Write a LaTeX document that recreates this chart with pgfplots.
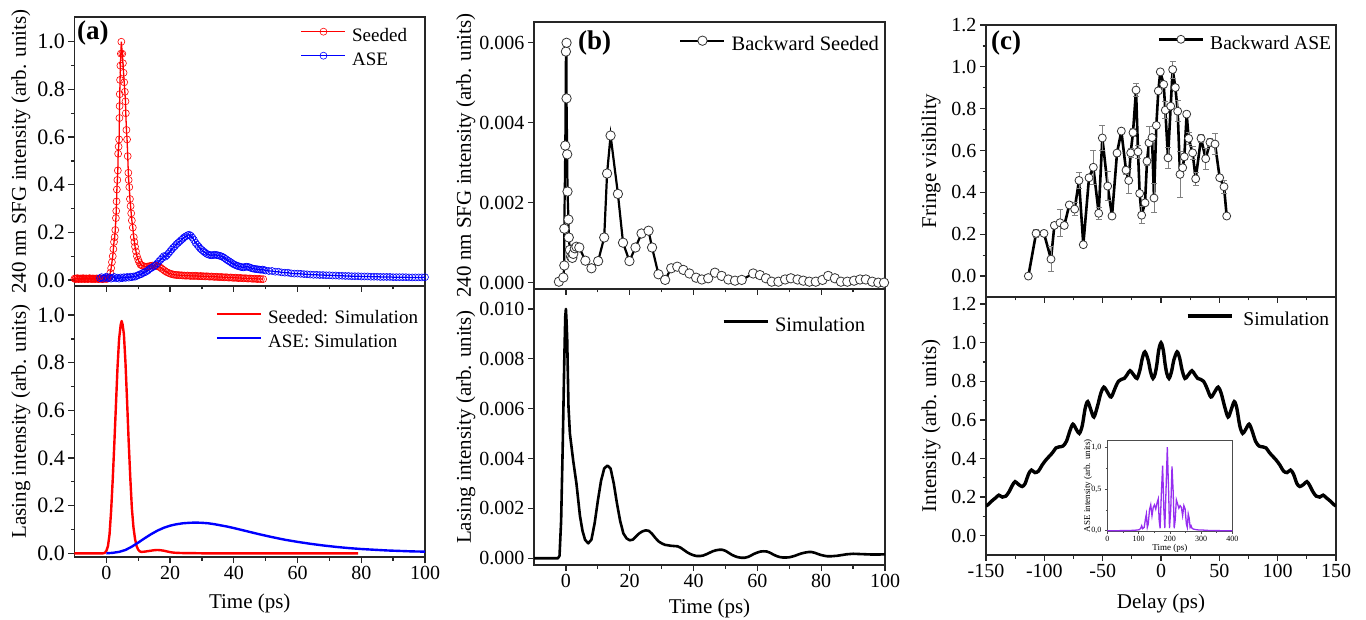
\documentclass[border=0pt]{standalone}
\usepackage{fontspec}
\setmainfont{Liberation Serif}
\usepackage{pgfplots}
\pgfplotsset{compat=1.18}
\definecolor{ivio}{RGB}{150,45,240}
\tikzset{plabel/.style={font=\bfseries\fontsize{27}{30}\selectfont, anchor=west, inner sep=0pt}}
\pgfplotsset{
  base/.style={
    scale only axis,
    axis line style={line width=1.6pt, black!85},
    every tick/.style={line width=1.3pt, black!85},
    tick align=outside,
    major tick length=6pt,
    minor tick length=3.5pt,
    xtick pos=lower, ytick pos=left,
    /pgf/number format/assume math mode=true,
    tick label style={font=\fontsize{20}{24}\selectfont},
    label style={font=\fontsize{21}{25}\selectfont},
    legend style={draw=none, fill=none, font=\fontsize{19.5}{23}\selectfont, row sep=5pt,
      inner sep=0pt, outer sep=0pt, nodes={inner sep=0pt, text height=14pt, text depth=5pt},
      /tikz/every odd column/.append style={column sep=6pt}},
    legend cell align=left,
    legend image code/.code={\draw[mark repeat=2,mark phase=2,##1] plot coordinates {(0pt,5.5pt) (22pt,5.5pt) (44pt,5.5pt)};},
  },
}
\begin{document}
\begin{tikzpicture}
\useasboundingbox (0,0) rectangle (1366pt,619pt);
%================ (a) top
\begin{axis}[base, at={(74.5pt,333pt)}, anchor=south west, width=350.5pt, height=269pt,
  xmin=-10, xmax=100, ymin=-0.025, ymax=1.104,
  xtick={0,20,40,60,80,100}, minor x tick num=1, xticklabels={},
  ytick={0,0.2,0.4,0.6,0.8,1}, minor y tick num=1,
  yticklabel style={font=\fontsize{22}{26}\selectfont},
  yticklabel style={/pgf/number format/.cd, fixed, fixed zerofill, precision=1},
  ylabel={240 nm SFG intensity (arb. units)},
  ylabel style={at={(axis description cs:-0.153,0.5)}, anchor=center},
  legend style={at={(1,1)}, anchor=north east, xshift=-18pt, yshift=-10.7pt, font=\fontsize{19}{23}\selectfont},
]
\addplot[red, line width=1.3pt, mark=o, mark size=3.5pt, mark options={line width=0.6pt, solid}] coordinates {
(-10,0.006) (-9.75,0.004) (-9.5,0.007) (-9.25,0.005) (-9,0.008) (-8.75,0.004) (-8.5,0.006) (-8.25,0.005)
(-8,0.007) (-7.75,0.004) (-7.5,0.006) (-7.25,0.008) (-7,0.005) (-6.75,0.004) (-6.5,0.006) (-6.25,0.007)
(-6,0.005) (-5.75,0.004) (-5.5,0.006) (-5.25,0.008) (-5,0.005) (-4.75,0.006) (-4.5,0.004) (-4.25,0.007)
(-4,0.005) (-3.75,0.006) (-3.5,0.004) (-3.25,0.006) (-3,0.007) (-2.75,0.005) (-2.5,0.004) (-2.25,0.006)
(-2,0.005) (-1.75,0.007) (-1.5,0.005) (-1.25,0.004) (-1,0.006) (-0.75,0.005) (-0.5,0.007) (-0.25,0.005)
(0,0.006) (0.25,0.005) (0.5,0.007) (0.75,0.008)
(1.0,0.012) (1.25,0.03) (1.5,0.05) (1.75,0.075) (2.0,0.1) (2.2,0.13) (2.4,0.16) (2.6,0.18) (2.8,0.21)
(3.0,0.26) (3.1,0.29) (3.2,0.33) (3.3,0.38) (3.45,0.42) (3.6,0.46) (3.7,0.53) (3.85,0.56) (4.0,0.59)
(4.1,0.68) (4.15,0.73) (4.2,0.78) (4.3,0.84) (4.4,0.9) (4.55,0.95) (4.7,1.0)
(5.0,0.95) (5.2,0.91) (5.4,0.87) (5.6,0.83) (5.8,0.79) (6.0,0.75) (6.1,0.70) (6.3,0.63) (6.5,0.59)
(6.7,0.52) (6.9,0.45) (7.0,0.42) (7.2,0.39) (7.4,0.34) (7.6,0.31) (7.8,0.28) (8.0,0.25) (8.3,0.22)
(8.6,0.18) (8.8,0.16) (9.0,0.14) (9.3,0.12) (9.6,0.10) (10,0.085) (10.3,0.075) (10.7,0.065) (11,0.062)
(11.5,0.059) (12,0.057)
(12.5,0.056) (13,0.057) (13.5,0.058) (14,0.06) (14.5,0.061) (15,0.06) (15.5,0.06) (16,0.058) (16.5,0.056)
(17,0.052) (17.5,0.047) (18,0.042) (18.5,0.037) (19,0.033) (19.5,0.03) (20,0.027) (20.5,0.025) (21,0.023)
(21.5,0.022) (22,0.021) (22.5,0.021) (23,0.02) (23.5,0.02) (24,0.019) (24.5,0.019) (25,0.018) (25.5,0.019)
(26,0.018) (26.5,0.017) (27,0.018) (27.5,0.017) (28,0.018) (28.5,0.017) (29,0.016) (29.5,0.017) (30,0.016)
(30.5,0.016) (31,0.015) (31.5,0.016) (32,0.015) (32.5,0.014) (33,0.015) (33.5,0.014) (34,0.013) (34.5,0.014)
(35,0.013) (35.5,0.012) (36,0.013) (36.5,0.012) (37,0.011) (37.5,0.012) (38,0.011) (38.5,0.01) (39,0.011)
(39.5,0.01) (40,0.009) (40.5,0.01) (41,0.009) (41.5,0.008) (42,0.009) (42.5,0.008) (43,0.007) (43.5,0.008)
(44,0.007) (44.5,0.006) (45,0.007) (45.5,0.006) (46,0.005) (46.5,0.006) (47,0.005) (47.5,0.004) (48,0.005)
(48.5,0.004) (49.2,0.004)
};
\addlegendentry{Seeded}
\addplot[blue, line width=1.3pt, mark=o, mark size=3.5pt, mark options={line width=0.6pt, solid}] coordinates {
(-2,0.008) (-1.5,0.012) (-1,0.006) (-0.5,0.01) (0,0.014) (0.5,0.008) (1,0.011) (1.5,0.006) (2,0.009)
(2.5,0.013) (3,0.007) (3.5,0.01) (4,0.006) (4.5,0.011) (5,0.008) (5.5,0.012) (6,0.009) (6.5,0.013)
(7,0.01) (7.5,0.014) (8,0.012) (8.5,0.015) (9,0.014) (9.5,0.018) (10,0.02) (10.5,0.024) (11,0.025)
(11.5,0.03) (12,0.032) (12.5,0.036) (13,0.04) (13.5,0.046) (14,0.05) (14.5,0.054) (15,0.058) (15.5,0.064)
(16,0.07) (16.5,0.078) (17,0.085) (17.5,0.092) (18,0.1) (18.5,0.098) (19,0.104) (19.5,0.112) (20,0.12)
(20.5,0.128) (21,0.136) (21.5,0.142) (22,0.15) (22.5,0.156) (23,0.162) (23.5,0.168) (24,0.174) (24.5,0.18)
(25,0.184) (25.5,0.188) (26,0.19) (26.5,0.186) (27,0.178) (27.5,0.168) (28,0.156) (28.5,0.148) (29,0.14)
(29.5,0.132) (30,0.126) (30.5,0.12) (31,0.115) (31.5,0.11) (32,0.107) (32.5,0.105) (33,0.104) (33.5,0.105)
(34,0.106) (34.5,0.105) (35,0.104) (35.5,0.102) (36,0.1) (36.5,0.097) (37,0.093) (37.5,0.088) (38,0.083)
(38.5,0.079) (39,0.075) (39.5,0.07) (40,0.066) (40.5,0.063) (41,0.06) (41.5,0.058) (42,0.056) (42.5,0.054)
(43,0.053) (43.5,0.055) (44,0.056) (44.5,0.055) (45,0.053) (45.5,0.05) (46,0.048) (46.5,0.047) (47,0.046)
(47.5,0.045) (48,0.044) (48.5,0.043) (49,0.044) (49.5,0.042) (50,0.04) (51,0.038) (52,0.038) (53,0.035)
(54,0.035) (55,0.032) (56,0.031) (57,0.031) (58,0.028) (59,0.027) (60,0.027) (61,0.026) (62,0.025)
(63,0.024) (64,0.023) (65,0.022) (66,0.022) (67,0.021) (68,0.021) (69,0.02) (70,0.02) (71,0.019)
(72,0.019) (73,0.018) (74,0.018) (75,0.017) (76,0.017) (77,0.016) (78,0.016) (79,0.016) (80,0.015)
(81,0.015) (82,0.015) (83,0.014) (84,0.014) (85,0.014) (86,0.013) (87,0.013) (88,0.013) (89,0.013)
(90,0.012) (91,0.012) (92,0.012) (93,0.012) (94,0.012) (95,0.011) (96,0.011) (97,0.011) (98,0.011)
(99,0.011) (100,0.012)
};
\addlegendentry{ASE}
\node[plabel] at (rel axis cs:0,1) [xshift=2.5pt, yshift=-16pt] {(a)};
\end{axis}
%================ (a) bottom
\begin{axis}[base, at={(74.5pt,62pt)}, anchor=south west, width=350.5pt, height=271pt,
  xmin=-10, xmax=100, ymin=-0.0155, ymax=1.122,
  xtick={0,20,40,60,80,100}, minor x tick num=1,
  ytick={0,0.2,0.4,0.6,0.8,1}, minor y tick num=1,
  yticklabel style={font=\fontsize{22}{26}\selectfont},
  yticklabel style={/pgf/number format/.cd, fixed, fixed zerofill, precision=1},
  ylabel={Lasing intensity (arb. units)},
  ylabel style={at={(axis description cs:-0.153,0.5)}, anchor=center},
  xlabel={Time (ps)},
  xlabel style={at={(axis description cs:0.5,0)}, anchor=center, yshift=-46pt},
  legend style={at={(1,1)}, anchor=north east, xshift=-7pt, yshift=-24pt, font=\fontsize{19}{23}\selectfont},
]
\addplot[red, line width=2.4pt, line join=round] coordinates {
(-10,0) (-2,0) (-1,0) (-0.5,0.002) (0,0.01) (0.5,0.03) (1,0.08) (1.5,0.18) (2,0.31) (2.5,0.46) (3,0.62)
(3.5,0.78) (4,0.9) (4.5,0.96) (4.8,0.975) (5.1,0.96) (5.5,0.92) (6,0.8) (6.5,0.64) (7,0.47) (7.5,0.32)
(8,0.19) (8.5,0.11) (9,0.06) (9.5,0.03) (10,0.015) (10.5,0.008) (11,0.006) (12,0.007) (13,0.009)
(14,0.011) (15,0.013) (16,0.014) (17,0.013) (18,0.011) (19,0.008) (20,0.005) (21,0.003) (22,0.002)
(24,0.001) (26,0.001) (30,0) (79,0)
};
\addlegendentry{Seeded: Simulation}
\addplot[blue, line width=2.4pt, line join=round] coordinates {
(0,0) (2,0.002) (4,0.006) (6,0.014) (8,0.028) (10,0.045) (12,0.063) (14,0.08) (16,0.095) (18,0.107)
(20,0.116) (22,0.122) (24,0.126) (26,0.128) (28,0.129) (30,0.128) (32,0.126) (34,0.122) (36,0.117)
(38,0.112) (40,0.106) (44,0.093) (48,0.08) (52,0.068) (56,0.057) (60,0.048) (64,0.04) (68,0.033)
(72,0.027) (76,0.022) (80,0.018) (84,0.015) (88,0.012) (92,0.01) (96,0.008) (100,0.007)
};
\addlegendentry{ASE: Simulation}
\end{axis}
%================ (b) top
\begin{axis}[base, at={(534pt,330pt)}, anchor=south west, width=351pt, height=267pt,
  xmin=-10, xmax=100, ymin=-0.000158, ymax=0.00652,
  xtick={0,20,40,60,80,100}, minor x tick num=1, xticklabels={},
  ytick={0,0.002,0.004,0.006}, scaled y ticks=false,
  yticklabel style={/pgf/number format/.cd, fixed, fixed zerofill, precision=3},
  ylabel={240 nm SFG intensity (arb. units)},
  ylabel style={at={(axis description cs:-0.194,0.5)}, anchor=center},
  legend style={at={(1,1)}, anchor=north east, xshift=-6pt, yshift=-14pt, font=\fontsize{20.5}{24}\selectfont},
]
\addplot[black, line width=2.2pt, mark=*, mark size=4.7pt, mark options={fill=white, draw=black!80, line width=0.8pt, solid}] coordinates {
(-2.2,0.000025) (-0.8,0.00013) (-0.5,0.00043) (-0.5,0.00135) (-0.2,0.00343) (0,0.00578) (0.2,0.00600)
(0.2,0.00461) (0.4,0.00321) (0.5,0.00228) (0.8,0.00158) (0.9,0.00113) (1.25,0.00082) (1.6,0.00065)
(2.0,0.00062) (2.3,0.00072) (2.8,0.00086) (3.3,0.0009) (4.2,0.00088) (6.1,0.00055) (8.0,0.00036)
(10.1,0.00054) (12.0,0.00113) (12.9,0.00273) (14.0,0.00368) (16.3,0.00222) (17.9,0.0010) (19.9,0.00054)
(21.8,0.00088) (23.7,0.00123) (25.9,0.0013) (27.0,0.00088) (29.0,0.00021) (31.1,0.00007) (33.0,0.00036)
(34.9,0.0004) (36.8,0.00032) (38.7,0.00023) (40.8,0.000125) (42.6,0.00008) (44.6,0.00011) (46.7,0.00025)
(48.8,0.00017) (50.9,0.00008) (53.0,0.00005) (55.1,0.00007) (58.7,0.00023) (60.8,0.00019) (62.7,0.00011)
(64.5,0.000025) (66.6,0.000025) (68.7,0.00008) (70.5,0.00011) (72.6,0.00008) (74.4,0.00005) (76.3,0.000025)
(78.3,0.000025) (80.4,0.00007) (82.2,0.00017) (84.3,0.00011) (86.2,0.000025) (88.2,0.000025) (90.3,0.00005)
(92.2,0.00008) (94.0,0.00008) (96.0,0.000025) (97.9,0) (99.7,0)
};
\addlegendentry{Backward Seeded}
\node[plabel] at (rel axis cs:0,1) [xshift=44pt, yshift=-21pt] {(b)};
\end{axis}
%================ (b) bottom
\begin{axis}[base, at={(534pt,54pt)}, anchor=south west, width=351pt, height=276pt,
  xmin=-10, xmax=100, ymin=-0.00027, ymax=0.0108,
  xtick={0,20,40,60,80,100}, minor x tick num=1,
  ytick={0,0.002,0.004,0.006,0.008,0.010}, scaled y ticks=false,
  yticklabel style={/pgf/number format/.cd, fixed, fixed zerofill, precision=3},
  ylabel={Lasing intensity (arb. units)},
  ylabel style={at={(axis description cs:-0.194,0.5)}, anchor=center},
  xlabel={Time (ps)},
  xlabel style={at={(axis description cs:0.5,0)}, anchor=center, yshift=-43pt},
  legend style={at={(1,1)}, anchor=north east, xshift=-20pt, yshift=-28.7pt, font=\fontsize{20.5}{24}\selectfont},
]
\addplot[black, line width=2.6pt, line join=round] coordinates {
(-10,0) (-3,0) (-2.5,0) (-2,0.0001) (-1.5,0.0015) (-1,0.0045) (-0.5,0.008) (-0.2,0.0097) (0,0.0100)
(0.2,0.0095) (0.4,0.0088) (0.8,0.0061) (1.25,0.0050) (2.3,0.0039) (3.3,0.0030) (4.4,0.0017) (5.2,0.0011)
(6,0.00074) (7,0.0006) (8,0.00075) (9,0.0014) (10,0.0023) (11,0.0031) (12,0.0036) (13,0.00372)
(14,0.0036) (15,0.0030) (16,0.0022) (17,0.0015) (18,0.0010) (19,0.0008) (20,0.00072) (21,0.00075)
(22,0.00088) (23,0.0010) (24,0.00108) (25,0.00112) (26,0.0011) (27,0.00098) (28,0.00082) (29,0.00068)
(30,0.0006) (31,0.00054) (32,0.00052) (33,0.0005) (34,0.00049) (35,0.00048) (36,0.00042) (37,0.00033)
(38,0.00024) (39,0.00017) (40,0.00012) (41,0.00009) (42,0.00009) (43,0.00011) (44,0.00016) (45,0.00022)
(46,0.00028) (47,0.00032) (48,0.00034) (49,0.00034) (50,0.0003) (51,0.00022) (52,0.00014) (53,0.00008)
(54,0.00004) (55,0.00002) (56,0.00002) (57,0.00005) (58,0.00011) (59,0.00018) (60,0.00023) (61,0.00027)
(62,0.00028) (63,0.00027) (64,0.00022) (65,0.00015) (66,0.00009) (67,0.00005) (68,0.00003) (69,0.00003)
(70,0.00004) (71,0.00007) (72,0.00011) (73,0.00016) (74,0.0002) (75,0.00023) (76,0.00025) (77,0.00025)
(78,0.00022) (79,0.00017) (80,0.00013) (81,0.0001) (82,0.00008) (83,0.00008) (84,0.00009) (85,0.0001)
(86,0.00012) (87,0.00014) (88,0.00016) (89,0.00017) (90,0.00018) (92,0.00017) (94,0.00016) (96,0.00015)
(98,0.00015) (100,0.00016)
};
\addlegendentry{Simulation}
\end{axis}
%================ (c) top
\begin{axis}[base, at={(986pt,322pt)}, anchor=south west, width=350pt, height=272pt,
  xmin=-150, xmax=150, ymin=-0.1, ymax=1.2,
  xtick={-150,-100,-50,0,50,100,150}, minor x tick num=1, xticklabels={},
  ytick={0,0.2,0.4,0.6,0.8,1,1.2}, minor y tick num=1,
  yticklabel style={/pgf/number format/.cd, fixed, fixed zerofill, precision=1},
  ylabel={Fringe visibility},
  ylabel style={at={(axis description cs:-0.157,0.5)}, anchor=center},
  legend style={at={(1,1)}, anchor=north east, xshift=-5pt, yshift=-10.3pt, font=\fontsize{19.5}{23}\selectfont},
]
\addplot[black, line width=2.6pt, line join=round, mark=*, mark size=4pt, mark options={fill=white, draw=black!80, line width=0.8pt, solid},
  error bars/.cd, y dir=both, y explicit, error bar style={gray, line width=0.8pt},
  error mark options={rotate=90, mark size=3pt, gray, line width=0.8pt}]
  table[x=x, y=y, y error=e] {
x y e
-113.7 0.0 0
-107.1 0.204 0.02
-100.3 0.204 0.01
-94.3 0.081 0.06
-91.4 0.242 0.01
-86.6 0.255 0.065
-82.9 0.242 0.015
-78.6 0.34 0.01
-74.0 0.32 0.03
-70.3 0.457 0.04
-66.6 0.15 0.01
-61.7 0.47 0.01
-58.0 0.52 0.08
-53.4 0.30 0.03
-50.3 0.66 0.06
-45.7 0.43 0.07
-42.0 0.287 0.01
-37.7 0.588 0.015
-34.0 0.693 0.01
-30.0 0.506 0.02
-27.7 0.457 0.06
-26.0 0.589 0.02
-24.0 0.686 0.02
-21.4 0.889 0.03
-19.7 0.594 0.03
-18.3 0.395 0.01
-16.6 0.291 0.04
-13.7 0.35 0.01
-12.0 0.549 0.02
-10.3 0.637 0.08
-7.7 0.662 0.01
-6.0 0.373 0.07
-4.0 0.72 0.01
-2.3 0.885 0.01
-0.6 0.976 0.01
2.3 0.916 0.01
3.7 0.793 0.04
6.0 0.565 0.05
8.3 0.812 0.01
10.0 0.987 0.04
12.3 0.901 0.01
14.3 0.788 0.05
16.3 0.486 0.11
18.6 0.518 0.01
20.0 0.57 0.01
22.0 0.774 0.01
23.7 0.658 0.03
27.1 0.589 0.03
29.7 0.465 0.03
34.3 0.658 0.02
38.3 0.561 0.05
42.0 0.639 0.02
46.3 0.631 0.05
50.3 0.47 0.01
54.0 0.427 0.03
56.3 0.287 0.01
};
\addlegendentry{Backward ASE}
\node[plabel] at (rel axis cs:0,1) [xshift=5pt, yshift=-18pt] {(c)};
\end{axis}
%================ (c) bottom
\begin{axis}[base, at={(986pt,64pt)}, anchor=south west, width=350pt, height=258pt,
  xmin=-150, xmax=150, ymin=-0.1, ymax=1.237,
  xtick={-150,-100,-50,0,50,100,150}, minor x tick num=1,
  ytick={0,0.2,0.4,0.6,0.8,1,1.2}, minor y tick num=1,
  yticklabel style={/pgf/number format/.cd, fixed, fixed zerofill, precision=1},
  ylabel={Intensity (arb. units)},
  ylabel style={at={(axis description cs:-0.157,0.5)}, anchor=center},
  xlabel={Delay (ps)},
  xlabel style={at={(axis description cs:0.5,0)}, anchor=center, yshift=-48pt},
  legend style={at={(1,1)}, anchor=north east, xshift=-7pt, yshift=-15pt, font=\fontsize{19.5}{23}\selectfont,
    /tikz/every odd column/.append style={column sep=10pt}},
]
\addplot[black, line width=3.4pt, smooth, tension=0.5] coordinates {
(-150,0.154) (-148,0.162) (-145,0.18) (-142,0.195) (-139,0.21) (-136,0.2) (-133,0.205) (-130,0.23)
(-127.5,0.26) (-125,0.28) (-122,0.265) (-119,0.255) (-116.5,0.27) (-113.5,0.32) (-111,0.34) (-108,0.327)
(-105,0.335) (-102,0.365) (-99,0.39) (-96,0.41) (-93,0.43) (-90,0.455) (-87.5,0.46) (-84,0.465)
(-81,0.49) (-78,0.545) (-75.5,0.578) (-72.5,0.55) (-70,0.53) (-67.5,0.57) (-65,0.66) (-62.8,0.695)
(-60,0.65) (-57.5,0.615) (-54.5,0.67) (-51.5,0.74) (-49,0.77) (-46,0.745) (-43.5,0.72) (-42,0.725)
(-39,0.77) (-36.5,0.80) (-34,0.81) (-31.5,0.815) (-29,0.835) (-26.5,0.855) (-23,0.83) (-20.5,0.815)
(-18,0.86) (-16,0.92) (-13.8,0.953) (-11,0.91) (-9,0.85) (-6.9,0.815) (-5,0.84) (-3.5,0.89) (-2,0.96)
(0,1.0)
(2,0.96) (3.5,0.89) (5,0.84) (6.9,0.815) (9,0.85) (11,0.91) (13.8,0.953) (16,0.92) (18,0.86)
(20.5,0.815) (23,0.83) (26.5,0.855) (29,0.835) (31.5,0.815) (34,0.81) (36.5,0.80) (39,0.77) (42,0.725)
(43.5,0.72) (46,0.745) (49,0.77) (51.5,0.74) (54.5,0.67) (57.5,0.615) (60,0.65) (62.8,0.695) (65,0.66)
(67.5,0.57) (70,0.53) (72.5,0.55) (75.5,0.578) (78,0.545) (81,0.49) (84,0.465) (87.5,0.46) (90,0.455)
(93,0.43) (96,0.41) (99,0.39) (102,0.365) (105,0.335) (108,0.327) (111,0.34) (113.5,0.32) (116.5,0.27)
(119,0.255) (122,0.265) (125,0.28) (127.5,0.26) (130,0.23) (133,0.205) (136,0.2) (139,0.21) (142,0.195)
(145,0.18) (148,0.162) (150,0.154)
};
\addlegendentry{Simulation}
\end{axis}
%================ inset
\begin{axis}[scale only axis, at={(1107.3pt,87.7pt)}, anchor=south west, width=125pt, height=91.3pt,
  axis background/.style={fill=white},
  axis line style={line width=0.6pt, black!70},
  every tick/.style={line width=0.5pt, black!70},
  tick align=outside, major tick length=2.5pt, minor tick length=1.5pt,
  xtick pos=lower, ytick pos=left,
  xmin=0, xmax=400, ymin=-0.007, ymax=1.087,
  xtick={0,100,200,300,400}, minor x tick num=1,
  ytick={0,0.5,1}, minor y tick num=1,
  /pgf/number format/assume math mode=true,
  tick label style={font=\fontsize{8}{9}\selectfont},
  yticklabel style={/pgf/number format/.cd, use comma, fixed, fixed zerofill, precision=1},
  xticklabel style={yshift=1pt},
  ylabel={ASE intensity (arb. units)}, xlabel={Time (ps)},
  label style={font=\fontsize{9}{10}\selectfont},
  ylabel style={at={(axis description cs:-0.155,0.5)}, anchor=center},
  xlabel style={at={(axis description cs:0.5,0)}, anchor=center, yshift=-17pt},
]
\addplot[ivio, line width=1.3pt] coordinates {
(0,0) (50,0.001) (80,0.004) (95,0.008) (102,0.012) (107,0.03) (110,0.06) (113,0.025) (118,0.04)
(122,0.14) (125,0.2) (128,0.04) (131,0.08) (135,0.25) (139,0.31) (143,0.18) (147,0.28) (151,0.31)
(155,0.26) (159,0.33) (163,0.38) (166,0.12) (169,0.03) (173,0.45) (177,0.78) (181,0.25) (184,0.03)
(188,0.5) (192,1.0) (196,0.5) (199,0.03) (203,0.25) (207,0.77) (211,0.45) (214,0.03) (217,0.12)
(221,0.37) (225,0.32) (229,0.27) (233,0.3) (237,0.28) (241,0.18) (245,0.3) (249,0.26) (253,0.08)
(256,0.04) (259,0.2) (262,0.15) (265,0.04) (268,0.06) (271,0.03) (275,0.02) (285,0.012) (295,0.008)
(305,0.008) (320,0.004) (350,0.001) (400,0)
};
\end{axis}
\end{tikzpicture}
\end{document}
